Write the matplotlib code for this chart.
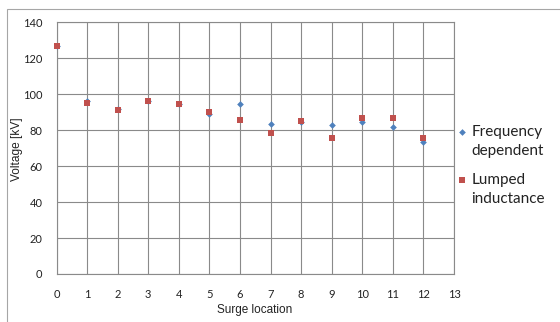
import matplotlib
matplotlib.use("Agg")
import matplotlib.pyplot as plt
from matplotlib.patches import Rectangle
from matplotlib.lines import Line2D

locations = [0, 1, 2, 3, 4, 5, 6, 7, 8, 9, 10, 11, 12]
freq_dependent = [127.0, 96.5, 91.5, 96.0, 94.6, 88.8, 94.5, 83.6, 84.3, 83.0, 84.3, 81.6, 73.6]
lumped_inductance = [127.0, 95.0, 91.2, 96.4, 94.3, 90.1, 85.5, 78.2, 85.1, 75.6, 86.6, 86.6, 75.6]
series_labels = ["Frequency\ndependent", "Lumped\ninductance"]
x_ticks = list(range(0, 14))
y_ticks = list(range(0, 141, 20))

BLUE = "#4F81BD"
RED = "#C0504D"
GRID = "#8a8a8a"
TICKFONT = "Lato"
LABELFONT = "Liberation Sans"

W, H = 560, 322
fig = plt.figure(figsize=(W / 100, H / 100), dpi=100)
fig.patch.set_facecolor("white")

# outer chart border
fig.add_artist(Rectangle((7 / W, -0.1), 1.2, (H - 9) / H + 0.1, transform=fig.transFigure,
                         fill=False, edgecolor="#a6a6a6", linewidth=0.8))

ax = fig.add_axes([56.5 / W, (H - 274) / H, (454 - 56.5) / W, (274 - 22.3) / H])
ax.set_xlim(0, 13)
ax.set_ylim(0, 140)
ax.set_xticks(x_ticks)
ax.set_yticks(y_ticks)
ax.grid(True, color=GRID, linewidth=0.8)
ax.set_axisbelow(True)
for s in ax.spines.values():
    s.set_color(GRID)
    s.set_linewidth(0.8)
ax.tick_params(length=0, labelsize=8, colors="#222222")
for lab in ax.get_xticklabels() + ax.get_yticklabels():
    lab.set_fontfamily(TICKFONT)
ax.tick_params(axis="y", pad=10)
ax.tick_params(axis="x", pad=11)

ax.plot(locations, freq_dependent, linestyle="none", marker="D", markersize=3.4,
        color=BLUE, markeredgewidth=0, clip_on=False, zorder=3)
ax.plot(locations, lumped_inductance, linestyle="none", marker="s", markersize=4.6,
        color=RED, markeredgewidth=0, clip_on=False, zorder=4)

ax.set_xlabel("Surge location", fontfamily=LABELFONT, fontsize=8.5, color="#222222", va="center")
ax.set_ylabel("Voltage [kV]", fontfamily=LABELFONT, fontsize=8.6, color="#222222", va="center")
ax.xaxis.set_label_coords((255 - 56.5) / (454 - 56.5), (274 - 310) / (274 - 22.3))
ax.yaxis.set_label_coords((17 - 56.5) / (454 - 56.5), (274 - 149) / (274 - 22.3))

# legend (manual, marker aligned with first text line)
leg_items = [(BLUE, "D", 3.4, 131.7), (RED, "s", 4.6, 180.0)]
for (col, mk, ms, ypix), text in zip(leg_items, series_labels):
    fig.add_artist(Line2D([461.5 / W], [(H - ypix) / H], transform=fig.transFigure,
                          marker=mk, markersize=ms, color=col, markeredgewidth=0, linestyle="none"))
    fig.text(471.5 / W, (H - ypix + 7) / H, text, fontfamily=TICKFONT, fontsize=11,
             va="top", ha="left", linespacing=1.45, color="#222222")

fig.savefig("out.png", dpi=100)
